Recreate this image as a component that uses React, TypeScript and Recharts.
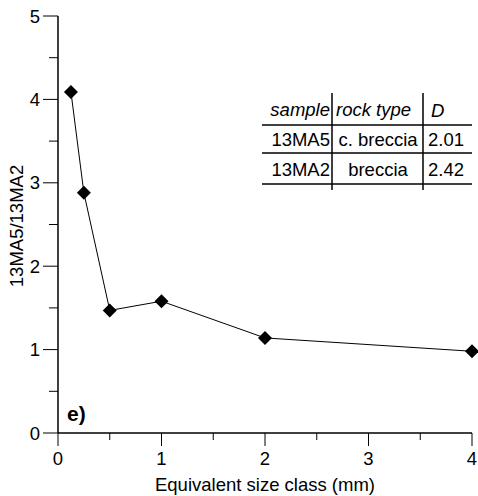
import { LineChart, Line, XAxis, YAxis } from 'recharts';

const sizeClass = [0.125, 0.25, 0.5, 1, 2, 4];
const ratio = [4.09, 2.88, 1.47, 1.58, 1.14, 0.98];
const xTicks = [0, 0.5, 1, 1.5, 2, 2.5, 3, 3.5, 4];
const yTicks = [0, 0.5, 1, 1.5, 2, 2.5, 3, 3.5, 4, 4.5, 5];

const tableHead = ['sample', 'rock type', 'D'];
const tableRows = [
  ['13MA5', 'c. breccia', '2.01'],
  ['13MA2', 'breccia', '2.42'],
];

const data = sizeClass.map((x, i) => ({ x, y: ratio[i] }));

const FONT = '"Liberation Sans", Arial, sans-serif';
const FS = 18.5;

const Diamond = (props: any) => {
  const { cx, cy } = props;
  if (cx == null || cy == null) return null;
  const r = 7;
  return <polygon points={`${cx},${cy - r} ${cx + r},${cy} ${cx},${cy + r} ${cx - r},${cy}`} fill="#000" />;
};

const XTick = (props: any) => {
  const { x, y, payload } = props;
  const major = Number.isInteger(payload.value);
  return (
    <g>
      <line x1={x} x2={x} y1={y} y2={y + (major ? 13 : 7)} stroke="#000" strokeWidth={1} />
      {major && (
        <text x={x} y={y + 32} textAnchor="middle" fontSize={FS} fontFamily={FONT} fill="#000">
          {payload.value}
        </text>
      )}
    </g>
  );
};

const YTick = (props: any) => {
  const { x, y, payload } = props;
  const major = Number.isInteger(payload.value);
  return (
    <g>
      <line x1={x - (major ? 15 : 9)} x2={x} y1={y} y2={y} stroke="#000" strokeWidth={1} />
      {major && (
        <text x={x - 18} y={y + 6.5} textAnchor="end" fontSize={FS} fontFamily={FONT} fill="#000">
          {payload.value}
        </text>
      )}
    </g>
  );
};

export default function App() {
  return (
    <div style={{ position: 'absolute', left: 0, top: 0, width: 478, height: 496, background: '#fff' }}>
      <LineChart width={478} height={496} data={data} margin={{ top: 16, right: 6, left: 0, bottom: 0 }}>
        <XAxis
          dataKey="x"
          type="number"
          domain={[0, 4]}
          ticks={xTicks}
          interval={0}
          minTickGap={0}
          height={63}
          tickSize={0}
          tickMargin={0}
          tickLine={false}
          tick={<XTick />}
          axisLine={{ stroke: '#000', strokeWidth: 1.5 }}
        />
        <YAxis
          type="number"
          domain={[0, 5]}
          ticks={yTicks}
          interval={0}
          minTickGap={0}
          width={58}
          tickSize={0}
          tickMargin={0}
          tickLine={false}
          tick={<YTick />}
          axisLine={{ stroke: '#000', strokeWidth: 1.5 }}
        />
        <Line
          dataKey="y"
          stroke="#000"
          strokeWidth={1}
          dot={<Diamond />}
          activeDot={false}
          isAnimationActive={false}
        />
      </LineChart>
      <svg width={478} height={496} style={{ position: 'absolute', left: 0, top: 0, pointerEvents: 'none' }}>
        <text x={265} y={491} textAnchor="middle" fontSize={FS} fontFamily={FONT} fill="#000">
          Equivalent size class (mm)
        </text>
        <text
          x={23}
          y={226}
          transform="rotate(-90 23 226)"
          textAnchor="middle"
          fontSize={FS}
          fontFamily={FONT}
          fill="#000"
        >
          13MA5/13MA2
        </text>
        <text x={67} y={421} fontSize={21} fontWeight="bold" fontFamily={FONT} fill="#000">e)</text>
        {/* inset table */}
        <g fontFamily={FONT} fontSize={FS} fill="#000">
          <line x1={332} x2={332} y1={93} y2={190} stroke="#000" strokeWidth={1.5} />
          <line x1={423} x2={423} y1={93} y2={190} stroke="#000" strokeWidth={1.5} />
          <line x1={262} x2={472} y1={125} y2={125} stroke="#000" strokeWidth={1.5} />
          <line x1={262} x2={472} y1={153} y2={153} stroke="#000" strokeWidth={1.5} />
          <line x1={262} x2={472} y1={184} y2={184} stroke="#000" strokeWidth={1.5} />
          <text x={330} y={116} textAnchor="end" fontStyle="italic">{tableHead[0]}</text>
          <text x={336} y={116} fontStyle="italic">{tableHead[1]}</text>
          <text x={431} y={117} fontStyle="italic">{tableHead[2]}</text>
          {tableRows.map((row, i) => (
            <g key={row[0]}>
              <text x={330} y={146 + i * 30} textAnchor="end">{row[0]}</text>
              <text x={378} y={146 + i * 30} textAnchor="middle">{row[1]}</text>
              <text x={428} y={146 + i * 30}>{row[2]}</text>
            </g>
          ))}
        </g>
      </svg>
    </div>
  );
}
